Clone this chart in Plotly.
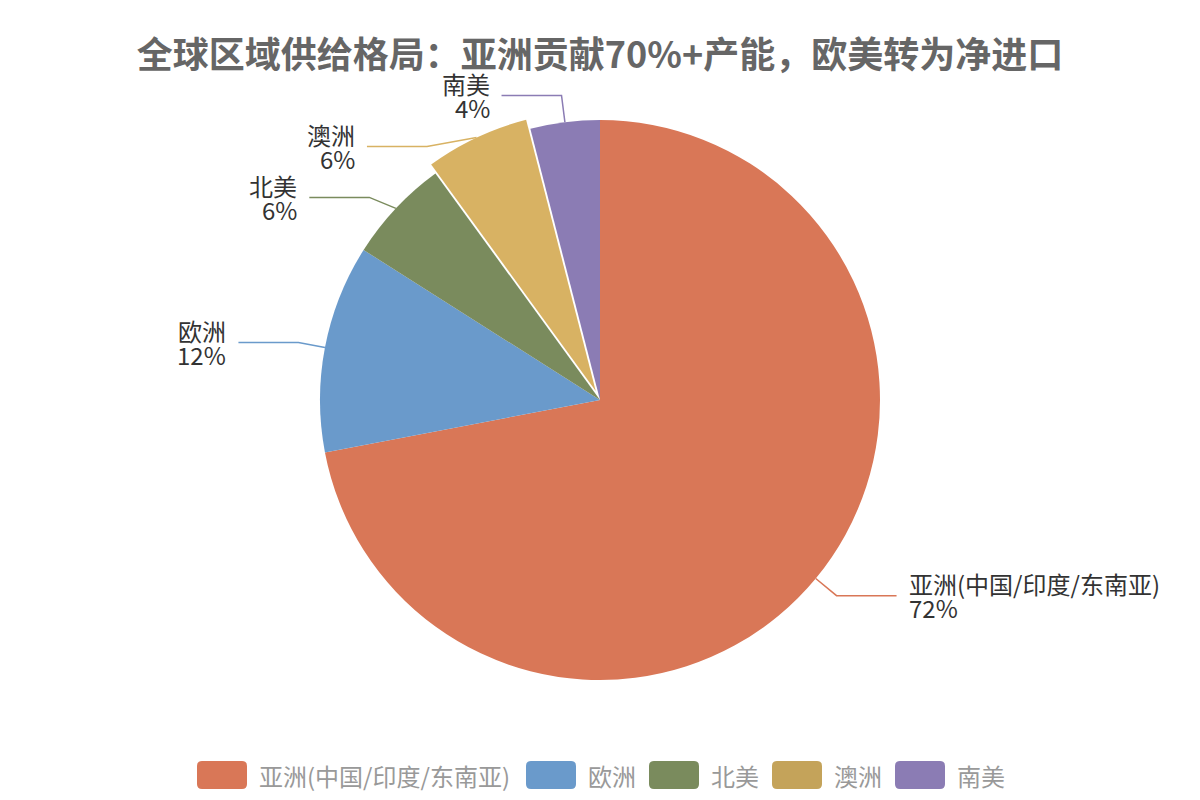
import math
import plotly.graph_objects as go

# ---- data ----
names = ["亚洲(中国/印度/东南亚)", "欧洲", "北美", "澳洲", "南美"]
values = [72, 12, 6, 6, 4]
slice_colors = ["#d97757", "#6a9acb", "#7a8b5d", "#d8b263", "#8b7cb4"]
legend_colors = ["#d97757", "#6a9acb", "#7a8b5d", "#c4a35a", "#8b7cb4"]
selected = [False, False, False, True, False]
title_text = "全球区域供给格局：亚洲贡献70%+产能，欧美转为净进口"

# ---- layout constants ----
W, H = 1200, 800
CX, CY, R = 600, 400, 280
PULL_PX = 10
L1, L2, TXT_GAP, MIN_DY = 27, 60, 10, 51
FONT = "Noto Sans CJK SC"
LABEL_SIZE = 24


def px(x):
    return x / W


def py(y):
    return 1 - y / H


total = sum(values)
pull = [PULL_PX / R if s else 0 for s in selected]
maxpull = max(pull)
hx = R * (1 + maxpull) / W
hy = R * (1 + maxpull) / H

fig = go.Figure(go.Pie(
    labels=names, values=values, sort=False, direction="clockwise", rotation=0,
    marker=dict(colors=slice_colors, line=dict(width=0)),
    pull=pull, textinfo="none", showlegend=False,
    domain=dict(x=[0.5 - hx, 0.5 + hx], y=[0.5 - hy, 0.5 + hy]),
    hoverinfo="label+percent",
))

# ---- outside labels with leader lines (computed from slice angles) ----
labels = []
cum = 0
for i, v in enumerate(values):
    mid = (cum + v / 2) / total
    cum += v
    th = 2 * math.pi * mid
    s, c = math.sin(th), -math.cos(th)
    off = PULL_PX if selected[i] else 0
    labels.append(dict(
        i=i,
        sx=CX + (R + off) * s, sy=CY + (R + off) * c,
        bx=CX + (R + L1 + off) * s, by=CY + (R + L1 + off) * c,
        side=1 if s >= 0 else -1,
    ))

R1 = R + L1
for side in (1, -1):
    grp = sorted([l for l in labels if l["side"] == side], key=lambda l: l["by"])
    for k in range(1, len(grp)):
        prev = grp[k - 1]["by"]
        if grp[k]["by"] < prev + MIN_DY:
            grp[k]["by"] = prev + MIN_DY
            dy = grp[k]["by"] - CY
            grp[k]["bx"] = CX + side * math.sqrt(max(R1 ** 2 - dy ** 2, 0))

shapes = []
annotations = []
for l in labels:
    i = l["i"]
    ex = l["bx"] + l["side"] * L2
    path = "M{},{} L{},{} L{},{}".format(
        px(l["sx"]), py(l["sy"]), px(l["bx"]), py(l["by"]), px(ex), py(l["by"]))
    shapes.append(dict(type="path", xref="paper", yref="paper", path=path,
                       line=dict(color=slice_colors[i], width=1.5)))
    tx = ex + l["side"] * TXT_GAP
    anchor = "left" if l["side"] > 0 else "right"
    pct = "{:.0f}%".format(values[i] / total * 100)
    for txt, dyy in ((names[i], -12), (pct, 12)):
        annotations.append(dict(
            x=px(tx), y=py(l["by"] + dyy), xref="paper", yref="paper",
            text=txt, showarrow=False, xanchor=anchor, yanchor="middle",
            font=dict(family=FONT, size=LABEL_SIZE, color="#333333"),
        ))

# ---- custom legend ----
legend_text_w = [254, 48, 48, 48, 48]
SW, SH, SR = 50, 28, 5
LGAP = 15
items_w = [SW + 10 + tw for tw in legend_text_w]
total_w = sum(items_w) + LGAP * (len(items_w) - 1)
x0 = W / 2 - total_w / 2
LY = 775


def rounded_rect(x, y, w, h, r):
    pts = [
        ("M", x + r, y), ("L", x + w - r, y), ("Q", x + w, y, x + w, y + r),
        ("L", x + w, y + h - r), ("Q", x + w, y + h, x + w - r, y + h),
        ("L", x + r, y + h), ("Q", x, y + h, x, y + h - r),
        ("L", x, y + r), ("Q", x, y, x + r, y),
    ]
    out = []
    for p in pts:
        cmd = p[0]
        coords = p[1:]
        seg = cmd + " ".join(
            "{},{}".format(px(coords[j]), py(coords[j + 1])) for j in range(0, len(coords), 2))
        out.append(seg)
    return " ".join(out) + " Z"


x = x0
for i, name in enumerate(names):
    shapes.append(dict(type="path", xref="paper", yref="paper",
                       path=rounded_rect(x, LY - SH / 2, SW, SH, SR),
                       fillcolor=legend_colors[i], line=dict(width=0)))
    annotations.append(dict(
        x=px(x + SW + 10), y=py(LY), xref="paper", yref="paper", text=name,
        showarrow=False, xanchor="left", yanchor="middle",
        font=dict(family=FONT, size=LABEL_SIZE, color="#999999"),
    ))
    x += items_w[i] + LGAP

fig.update_layout(
    width=W, height=H,
    margin=dict(l=0, r=0, t=0, b=0),
    paper_bgcolor="white", plot_bgcolor="white",
    title=dict(text=title_text, x=0.5, y=py(55), xanchor="center", yanchor="middle",
               font=dict(family=FONT, size=36, color="#666666", weight="bold")),
    shapes=shapes, annotations=annotations, showlegend=False,
)

fig.write_html("out.html")
